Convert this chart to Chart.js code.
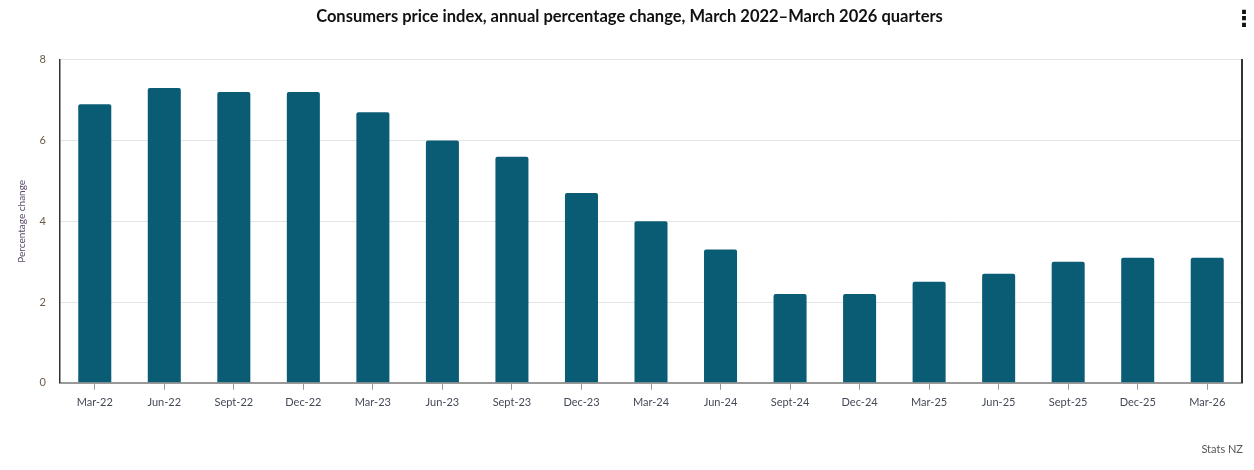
<!DOCTYPE html>
<html>
<head>
<meta charset="utf-8">
<script src="https://cdn.jsdelivr.net/npm/chart.js@4/dist/chart.umd.min.js"></script>
<style>
  html, body { margin: 0; padding: 0; background: #fff; }
  #wrap { position: relative; width: 1254px; height: 470px; }
  #menu { position: absolute; left: 1233px; top: 6px; font: bold 22px "DejaVu Sans"; color: #111; }
  #credit { position: absolute; right: 11px; top: 442px; font: 11px Lato, sans-serif; color: #555; }
</style>
</head>
<body>
<div id="wrap">
  <canvas id="myChart" width="1254" height="470"></canvas>
  <div id="menu">&#8942;</div>
  <div id="credit">Stats NZ</div>
</div>
<script>
// data
const quarters = ['Mar-22', 'Jun-22', 'Sept-22', 'Dec-22', 'Mar-23', 'Jun-23', 'Sept-23', 'Dec-23',
  'Mar-24', 'Jun-24', 'Sept-24', 'Dec-24', 'Mar-25', 'Jun-25', 'Sept-25', 'Dec-25', 'Mar-26'];
const cpiChange = [6.9, 7.3, 7.2, 7.2, 6.7, 6.0, 5.6, 4.7, 4.0, 3.3, 2.2, 2.2, 2.5, 2.7, 3.0, 3.1, 3.1];
const yTicks = [0, 2, 4, 6, 8];

const ctx = document.getElementById('myChart').getContext('2d');
const myChart = new Chart(ctx, {
    type: 'bar',
    data: {
        labels: quarters,
        datasets: [{
            label: 'Percentage change',
            data: cpiChange,
            backgroundColor: '#0a5c75',
            borderRadius: { topLeft: 2, topRight: 2 },
            borderSkipped: 'bottom',
            barPercentage: 0.475,
            categoryPercentage: 1
        }]
    },
    options: {
        responsive: false,
        animation: false,
        layout: { padding: { left: 16, right: 11, top: 0, bottom: 55 } },
        plugins: {
            legend: { display: false },
            tooltip: { enabled: false },
            title: {
                display: true,
                text: 'Consumers price index, annual percentage change, March 2022\u2013March 2026 quarters',
                color: '#111',
                font: { family: 'Lato', size: 16.5, weight: 'bold' },
                padding: { top: 7, bottom: 33 }
            }
        },
        scales: {
            x: {
                grid: { display: true, drawOnChartArea: false, drawTicks: true, tickLength: 7, color: '#999', offset: false },
                border: { color: '#999', width: 2 },
                ticks: { color: '#444a58', font: { family: 'Lato', size: 11 }, padding: 6, maxRotation: 0, autoSkip: false }
            },
            y: {
                min: 0,
                max: 8,
                afterBuildTicks: axis => { axis.ticks = yTicks.map(v => ({ value: v })); },
                afterFit: axis => { axis.width = 44; },
                grid: { color: '#e4e4e4', drawTicks: false },
                border: { color: '#333', width: 1.5 },
                ticks: { color: '#6e5a48', font: { family: 'Lato', size: 11 }, padding: 14 },
                title: {
                    display: true,
                    text: 'Percentage change',
                    color: '#5a4a6a',
                    font: { family: 'Lato', size: 10 },
                    padding: 0
                }
            },
            y2: {
                position: 'right',
                min: 0,
                max: 8,
                grid: { display: false, drawTicks: false },
                border: { color: '#333', width: 2 },
                ticks: { display: false },
                afterFit: axis => { axis.width = 1; }
            }
        }
    }
});
</script>
</body>
</html>
